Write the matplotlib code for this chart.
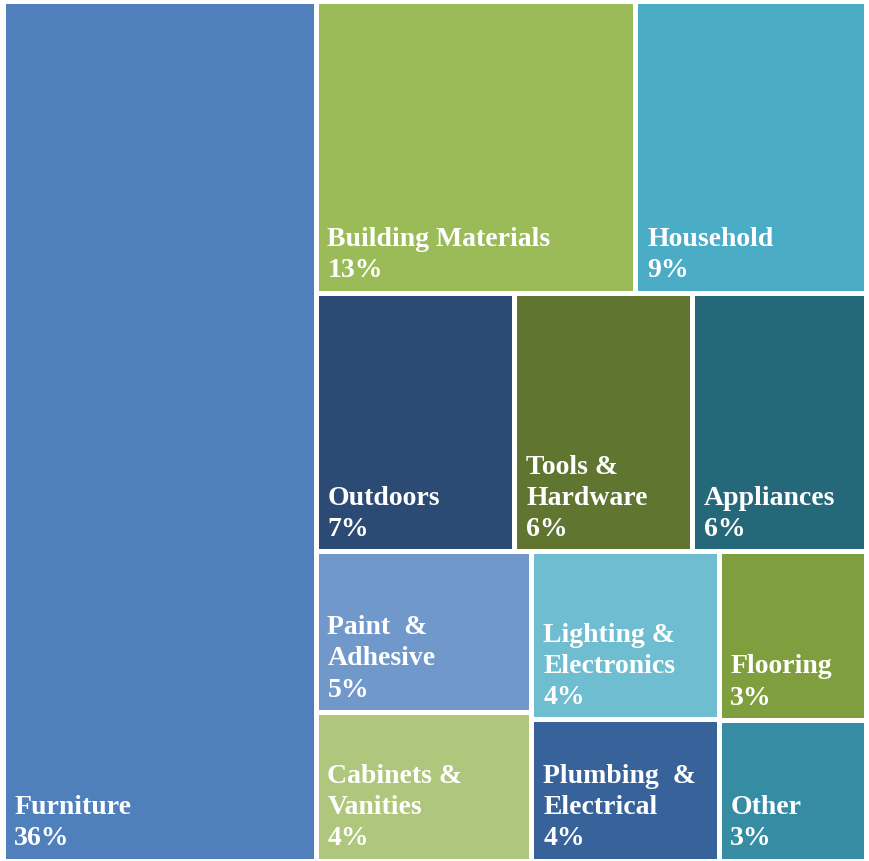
import matplotlib.pyplot as plt
from matplotlib.patches import Rectangle

labels = ['Furniture', 'Building Materials', 'Household',
          'Outdoors', 'Tools &\nHardware', 'Appliances',
          'Paint  &\nAdhesive', 'Cabinets &\nVanities',
          'Lighting &\nElectronics', 'Plumbing  &\nElectrical',
          'Flooring', 'Other']
shares = [36.27, 12.59, 9.05, 6.94, 6.21, 6.04, 4.66, 4.33, 4.23, 3.56, 3.33, 2.79]
pct_labels = ['36%', '13%', '9%', '7%', '6%', '6%', '5%', '4%', '4%', '4%', '3%', '3%']
colors = ['#4F80BC', '#9BBB59', '#4BACC6', '#2C4B74', '#5F7530', '#25687A',
          '#7098CA', '#AFC77C', '#6EBDD1', '#38629A', '#7F9E3E', '#358CA3']

# layout: first item is its own column, the rest stack in rows,
# a row entry is either an index or a list of indices stacked vertically
first = 0
rows = [[1, 2], [3, 4, 5], [[6, 7], [8, 9], [10, 11]]]

W, H = 869, 861
fig = plt.figure(figsize=(W / 100, H / 100), dpi=100)
ax = fig.add_axes([2.5 / W, 0.5 / H, 863 / W, 860 / H])
ax.set_xlim(0, 1)
ax.set_ylim(1, 0)
ax.axis('off')

total = sum(shares)
rects = {}
fw = shares[first] / total
rects[first] = (0, 0, fw, 1)
rest = total - shares[first]
y = 0
for row in rows:
    idx = [i for e in row for i in (e if isinstance(e, list) else [e])]
    rsum = sum(shares[i] for i in idx)
    rh = rsum / rest
    x = fw
    for e in row:
        grp = e if isinstance(e, list) else [e]
        gsum = sum(shares[i] for i in grp)
        gw = gsum / rsum * (1 - fw)
        yy = y
        for i in grp:
            h = shares[i] / gsum * rh
            rects[i] = (x, yy, gw, h)
            yy += h
        x += gw
    y += rh

for i, (x, y, w, h) in rects.items():
    ax.add_patch(Rectangle((x, y), w, h, facecolor=colors[i], edgecolor='white',
                           linewidth=3.6, clip_on=False))
    ax.annotate(labels[i] + '\n' + pct_labels[i], (x, y + h), xytext=(8.5, 6.5),
                textcoords='offset points', ha='left', va='bottom',
                color='white', fontsize=20, fontweight='bold',
                family='Liberation Serif', linespacing=1.33)

fig.savefig('out.png', dpi=100)
